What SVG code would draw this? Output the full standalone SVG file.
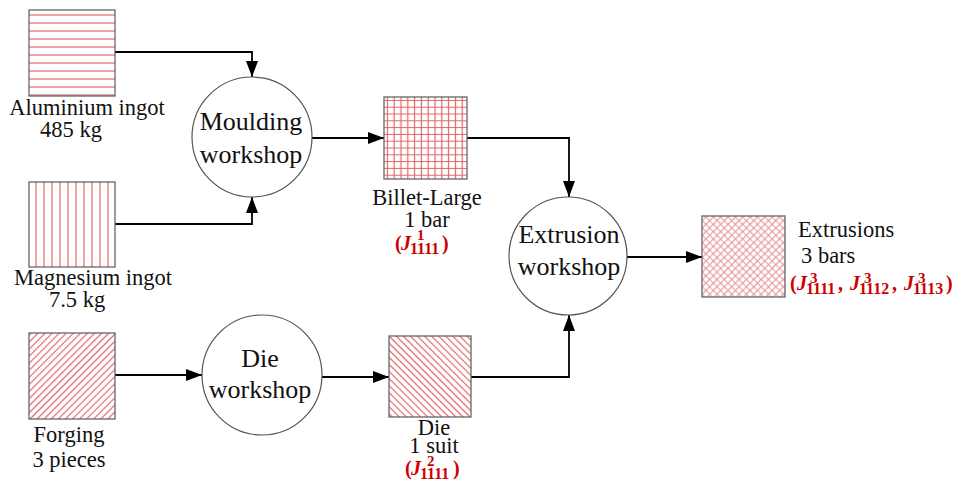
<svg xmlns="http://www.w3.org/2000/svg" width="955" height="484" viewBox="0 0 955 484">
<style>
.lbl{font-family:"Liberation Serif","Times New Roman",serif;font-size:22.5px;fill:#111;text-anchor:middle}
.ctr{font-family:"Liberation Serif","Times New Roman",serif;font-size:26px;fill:#111;text-anchor:middle}
.red{font-family:"Liberation Serif","Times New Roman",serif;font-weight:bold;fill:#cc0000;font-size:20px}
.j{font-style:italic}
.sb{font-size:16px}
.sp{font-size:15px}
.box{stroke:#666;stroke-width:1.3}
.circ{fill:#fff;stroke:#555;stroke-width:1.2}
.con{fill:none;stroke:#000;stroke-width:1.8}
.hl{stroke:#e06666;stroke-width:1.2}
</style>
<defs>
<marker id="arr" markerUnits="userSpaceOnUse" markerWidth="17" markerHeight="13" refX="16" refY="6" orient="auto">
<path d="M0,0 L16,6 L0,12 z" fill="#000"/>
</marker>
<pattern id="pH" patternUnits="userSpaceOnUse" x="0" y="11" width="8" height="8"><line x1="0" y1="4" x2="8" y2="4" class="hl"/></pattern>
<pattern id="pV" patternUnits="userSpaceOnUse" x="32" y="0" width="8" height="8"><line x1="4" y1="0" x2="4" y2="8" class="hl"/></pattern>
<pattern id="pF" patternUnits="userSpaceOnUse" width="5" height="5" patternTransform="rotate(45)"><line x1="2.5" y1="0" x2="2.5" y2="5" class="hl" stroke-width="1.5"/></pattern>
<pattern id="pB" patternUnits="userSpaceOnUse" width="5" height="5" patternTransform="rotate(-45)"><line x1="2.5" y1="0" x2="2.5" y2="5" class="hl" stroke-width="1.5"/></pattern>
<pattern id="pG" patternUnits="userSpaceOnUse" x="384" y="97" width="6.8" height="6.8"><path d="M3.4,0 V6.8 M0,3.4 H6.8" class="hl" stroke-width="1"/></pattern>
<pattern id="pX" patternUnits="userSpaceOnUse" width="5.2" height="5.2" patternTransform="rotate(45)"><path d="M2.6,0 V5.2 M0,2.6 H5.2" stroke="#e48a8a" stroke-width="1"/></pattern>
</defs>

<g id="connectors">
<path class="con" d="M115,52 H252 V77" marker-end="url(#arr)"/>
<path class="con" d="M115,224 H252 V197" marker-end="url(#arr)"/>
<path class="con" d="M312,138 H384" marker-end="url(#arr)"/>
<path class="con" d="M467,138 H569 V197" marker-end="url(#arr)"/>
<path class="con" d="M115,375 H202" marker-end="url(#arr)"/>
<path class="con" d="M322,377 H389" marker-end="url(#arr)"/>
<path class="con" d="M471,377 H569 V315" marker-end="url(#arr)"/>
<path class="con" d="M627,257 H702" marker-end="url(#arr)"/>
</g>

<g id="aluminium">
<rect x="29" y="10" width="86" height="86" fill="url(#pH)" class="box"/>
<text class="lbl" x="87" y="115">Aluminium ingot</text>
<text class="lbl" x="71" y="137">485 kg</text>
</g>

<g id="magnesium">
<rect x="29" y="182" width="86" height="85" fill="url(#pV)" class="box"/>
<text class="lbl" x="93" y="285">Magnesium ingot</text>
<text class="lbl" x="77" y="307">7.5 kg</text>
</g>

<g id="forging">
<rect x="29" y="333" width="86" height="86" fill="url(#pF)" class="box"/>
<text class="lbl" x="69" y="442">Forging</text>
<text class="lbl" x="69" y="467">3 pieces</text>
</g>

<g id="moulding">
<circle cx="252" cy="137" r="60" class="circ"/>
<text class="ctr" x="251" y="130">Moulding</text>
<text class="ctr" x="251" y="163">workshop</text>
</g>

<g id="dieworkshop">
<circle cx="262" cy="375" r="60" class="circ"/>
<text class="ctr" x="260" y="367">Die</text>
<text class="ctr" x="260" y="398">workshop</text>
</g>

<g id="billet">
<rect x="384" y="97" width="83" height="82" fill="url(#pG)" class="box"/>
<text class="lbl" x="427" y="205">Billet-Large</text>
<text class="lbl" x="427" y="227">1 bar</text>
<text class="red"><tspan x="395" y="250">(</tspan><tspan class="j" x="401" y="250">J</tspan><tspan class="sb" x="410" y="254">1111</tspan><tspan class="sp" x="417" y="240">1</tspan><tspan x="442" y="250">)</tspan></text>
</g>

<g id="die">
<rect x="389" y="336" width="82" height="81" fill="url(#pB)" class="box"/>
<text class="lbl" x="434" y="435">Die</text>
<text class="lbl" x="434" y="453">1 suit</text>
<text class="red"><tspan x="405" y="475">(</tspan><tspan class="j" x="411" y="475">J</tspan><tspan class="sb" x="420" y="479">1111</tspan><tspan class="sp" x="427" y="466">2</tspan><tspan x="453" y="475">)</tspan></text>
</g>

<g id="extrusion">
<circle cx="568" cy="256" r="59" class="circ"/>
<text class="ctr" x="569" y="243">Extrusion</text>
<text class="ctr" x="569" y="275">workshop</text>
</g>

<g id="extrusions">
<rect x="702" y="216" width="83" height="81" fill="url(#pX)" class="box"/>
<text class="lbl" x="798" y="237" style="text-anchor:start">Extrusions</text>
<text class="lbl" x="801" y="263" style="text-anchor:start">3 bars</text>
<text class="red"><tspan x="790" y="290">(</tspan><tspan class="j" x="797" y="290">J</tspan><tspan class="sb" x="806" y="294">1111</tspan><tspan class="sp" x="810" y="283">3</tspan><tspan x="838" y="290">,</tspan><tspan class="j" x="850" y="290">J</tspan><tspan class="sb" x="859" y="294">1112</tspan><tspan class="sp" x="864" y="283">3</tspan><tspan x="892" y="290">,</tspan><tspan class="j" x="904" y="290">J</tspan><tspan class="sb" x="913" y="294">1113</tspan><tspan class="sp" x="918" y="283">3</tspan><tspan x="946" y="290">)</tspan></text>
</g>
</svg>
